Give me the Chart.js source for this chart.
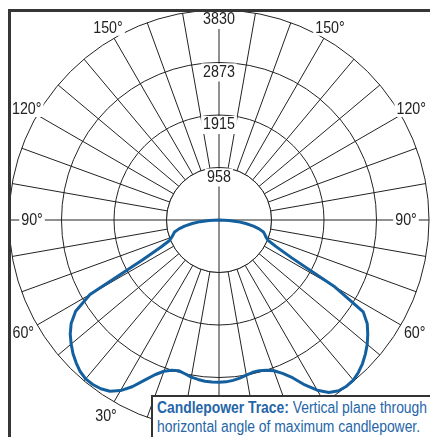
<!DOCTYPE html>
<html><head><meta charset="utf-8">
<script src="https://cdn.jsdelivr.net/npm/chart.js@4.4.1/dist/chart.umd.min.js"></script>
<style>
html,body{margin:0;padding:0;background:#fff;}
#wrap{position:relative;width:430px;height:437px;overflow:hidden;background:#fff;}
#c{position:absolute;left:0;top:0;}
#note{position:absolute;left:151px;top:395px;width:400px;height:60px;background:#fff;border-left:2px solid #333;border-top:2px solid #333;box-sizing:border-box;padding:2px 0 0 4px;font-family:"Liberation Sans",Arial,sans-serif;font-size:16px;line-height:18.5px;color:#2565a8;white-space:nowrap;}
#note .in{display:inline-block;transform-origin:0 0;}
#note b{font-weight:bold;}
</style></head>
<body><div id="wrap"><canvas id="c" width="430" height="437"></canvas>
<div id="note"><span class="in" id="noteText"><span id="line1"><b>Candlepower Trace:</b> Vertical plane through</span><br>horizontal angle of maximum candlepower.</span></div></div>
<script>
// ---- data ----
const stepDeg = 2.5; // angular sampling of the trace and grid
const ringValues = [0, 957.5, 1915, 2872.5, 3830];
const ringLabels = ['', '958', '1915', '2873', '3830'];
const angleMarks = [30, 60, 90, 120, 150];
const angleMarkLabels = ['30°', '60°', '90°', '120°', '150°'];
// candela at 0°, 2.5°, ... 90° from nadir, left half of the trace
const leftCandela = [2960, 2958, 2951, 2933, 2911, 2872, 2845, 2872, 2936, 3055,
  3228, 3429, 3593, 3702, 3757, 3781, 3784, 3748, 3684, 3611,
  3520, 3420, 3292, 3100, 2717, 1568, 1167, 976, 917, 875,
  839, 748, 638, 492, 347, 182, 0];
// candela at 0°, 2.5°, ... 90° from nadir, right half of the trace
const rightCandela = [2960, 2955, 2936, 2909, 2872, 2845, 2845, 2872, 2927, 3027,
  3173, 3392, 3584, 3730, 3803, 3821, 3812, 3766, 3702, 3620,
  3529, 3420, 3301, 3119, 2444, 1496, 1149, 967, 912, 875,
  839, 748, 638, 492, 347, 182, 0];

// condense the caption like the original narrow typeface
(function () {
  const l1 = document.getElementById('line1');
  const w = l1.getBoundingClientRect().width;
  document.getElementById('noteText').style.transform = 'scaleX(' + (270 / w) + ')';
})();

// ---- build the radar table ----
const nSpokes = Math.round(360 / stepDeg);
const labels = [];
const values = [];
for (let i = 0; i < nSpokes; i++) {
  labels.push(i * stepDeg);
  if (i < leftCandela.length) values.push(leftCandela[i]);
  else if (nSpokes - i < rightCandela.length) values.push(rightCandela[nSpokes - i]);
  else values.push(null);
}

const gridColor = '#222';
const traceColor = '#14609f';
const labelFont = '17px "Liberation Sans", Arial, sans-serif';
const condense = 0.84;

function narrowText(ctx, txt, x, y) {
  ctx.save();
  ctx.translate(x, y);
  ctx.scale(condense, 1);
  ctx.fillText(txt, 0, 0);
  ctx.restore();
}

const overlay = {
  id: 'overlay',
  beforeDatasetsDraw(chart) {
    const s = chart.scales.r;
    const ctx = chart.ctx;
    const r0 = s.getDistanceFromCenterForValue(ringValues[1]);
    const R = s.getDistanceFromCenterForValue(ringValues[ringValues.length - 1]);
    ctx.save();
    // hollow centre
    ctx.fillStyle = '#fff';
    ctx.beginPath(); ctx.arc(s.xCenter, s.yCenter, r0, 0, Math.PI * 2); ctx.fill();
    ctx.strokeStyle = gridColor; ctx.lineWidth = 1; ctx.stroke();
    // the two axes pass through the centre
    const q = nSpokes / 4;
    [0, q].forEach(i => {
      const a = s.getPointPosition(i, r0), b = s.getPointPosition(i + 2 * q, r0);
      ctx.beginPath(); ctx.moveTo(a.x, a.y); ctx.lineTo(b.x, b.y); ctx.stroke();
    });
    ctx.font = labelFont;
    ctx.textAlign = 'center';
    ctx.textBaseline = 'middle';
    // ring labels, just inside each ring on the upward axis
    ringValues.forEach((v, k) => {
      if (!ringLabels[k]) return;
      const r = s.getDistanceFromCenterForValue(v);
      const top = s.getPointPosition(2 * q, r);
      const w = ctx.measureText(ringLabels[k]).width * condense;
      ctx.fillStyle = '#fff';
      ctx.fillRect(top.x - w / 2 - 2, top.y + 1, w + 4, 18);
      ctx.fillStyle = '#222';
      narrowText(ctx, ringLabels[k], top.x, top.y + 9.5);
    });
    // angle labels on both sides
    angleMarks.forEach((deg, k) => {
      const txt = angleMarkLabels[k];
      const d = deg === 90 ? R - 23 : (deg < 90 ? R + 16 : R + 12);
      [deg / stepDeg, (360 - deg) / stepDeg].forEach(idx => {
        const p = s.getPointPosition(idx, d);
        const w = ctx.measureText(txt).width * condense;
        ctx.fillStyle = '#fff';
        ctx.fillRect(p.x - w / 2 - 2, p.y - 8, w + 4, 16);
        ctx.fillStyle = '#222';
        narrowText(ctx, txt, p.x, p.y + 0.5);
      });
    });
    ctx.restore();
  },
  afterDraw(chart) {
    const ctx = chart.ctx;
    ctx.save();
    ctx.fillStyle = '#363636';
    ctx.fillRect(8, 9, 422, 3);
    ctx.fillRect(8, 9, 3, 428);
    ctx.restore();
  }
};

new Chart(document.getElementById('c'), {
  type: 'radar',
  data: {
    labels: labels,
    datasets: [{
      data: values,
      borderColor: traceColor,
      borderWidth: 3,
      fill: false,
      pointRadius: 0,
      pointHoverRadius: 0,
      tension: 0,
      spanGaps: false,
      borderJoinStyle: 'round',
      borderCapStyle: 'round'
    }]
  },
  options: {
    responsive: false,
    animation: false,
    events: [],
    layout: { padding: { left: 9, top: 10, right: 1, bottom: 7 } },
    plugins: { legend: { display: false }, tooltip: { enabled: false } },
    scales: {
      r: {
        min: 0,
        max: 3830,
        startAngle: 180,
        afterBuildTicks: scale => { scale.ticks = ringValues.map(v => ({ value: v })); },
        grid: { circular: true, color: gridColor, lineWidth: 1 },
        angleLines: { color: gridColor, lineWidth: ctx => (ctx.index % 4 === 0 ? 1 : 0) },
        ticks: { display: false },
        pointLabels: { display: false }
      }
    }
  },
  plugins: [overlay]
});
</script>
</body></html>
